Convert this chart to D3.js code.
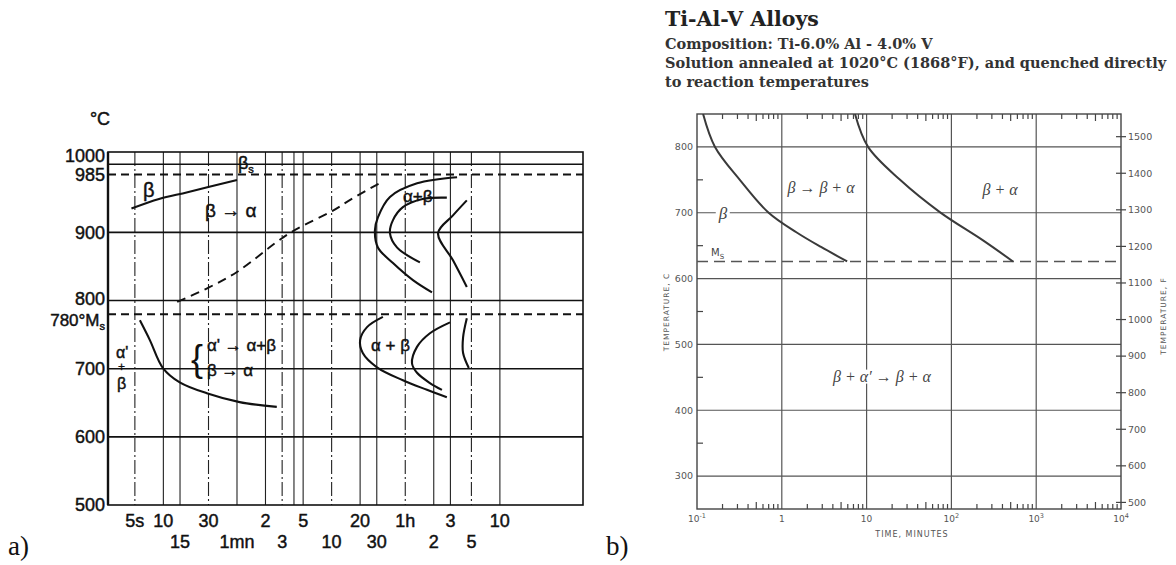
<!DOCTYPE html>
<html><head><meta charset="utf-8">
<script src="https://cdn.jsdelivr.net/npm/d3@7"></script>
<style>body{margin:0;background:#fff}</style>
</head><body><svg id="c" width="1176" height="565" xmlns="http://www.w3.org/2000/svg"></svg>
<script>
// ---------------- LEFT CHART DATA (time in seconds, temperature in °C) ----------------
const leftSolidTemps = [1000, 900, 800, 700, 600];
const leftDashedTemps = [985, 780];
const leftTempTicks = [1000, 985, 900, 800, 700, 600, 500];
const leftGridTimes = [5, 10, 15, 30, 60, 120, 180, 240, 300, 600, 1200, 1800, 3600, 7200, 10800, 18000, 36000];
const leftRow1Times = [5, 10, 30, 120, 300, 1200, 3600, 10800, 36000];
const leftRow1Labels = ["5s", "10", "30", "2", "5", "20", "1h", "3", "10"];
const leftRow2Times = [15, 60, 180, 600, 1800, 7200, 18000];
const leftRow2Labels = ["15", "1mn", "3", "10", "30", "2", "5"];
const betaLimit = [[4.6, 935], [9, 949], [18, 959], [60, 977]];
const betaAlphaStart = [[14, 798], [30, 819], [60, 842], [216, 899], [620, 932], [1000, 950], [2100, 975]];
const upperOuterC = [[12700, 981], [4800, 972], [2480, 952], [1850, 922], [1720, 903], [1850, 878], [2670, 855], [4340, 830], [6900, 812]];
const upperInnerC = [[9900, 951], [5500, 949], [3400, 937], [2670, 918], [2480, 899], [2940, 878], [5140, 856]];
const upperThird = [[16100, 947], [11500, 925], [8000, 899], [11500, 859], [16100, 820]];
const lowerLeft = [[5.65, 771], [7.2, 742], [9.9, 701], [14.9, 680], [28.8, 664], [64, 651], [158, 644]];
const lowerOuterC = [[2090, 776], [1420, 761], [1200, 742], [1280, 723], [1810, 702], [3400, 683], [6100, 669], [9900, 658]];
const lowerInnerC = [[10700, 768], [6560, 752], [4790, 732], [4240, 708], [4790, 694], [6560, 679], [8790, 669]];
const lowerThird = [[16100, 774], [14700, 746], [14700, 723], [16900, 701]];

// ---------------- RIGHT CHART DATA (time in minutes, temperature in °C / °F) ----------------
const rightGridTemps = [300, 400, 500, 600, 700, 800];
const rightMinorTemps = [350, 450, 550, 650, 750];
const rightGridTimes = [1, 10, 100, 1000];
const rightDecades = [0.1, 1, 10, 100, 1000];
const rightMinorMult = [2, 3, 4, 5, 6, 7, 8, 9];
const rightTimeLabelValues = [0.1, 1, 10, 100, 1000, 10000];
const rightTimeLabelBase = ["10", "1", "10", "10", "10", "10"];
const rightTimeLabelExp = ["-1", "", "", "2", "3", "4"];
const rightFTicks = [500, 600, 700, 800, 900, 1000, 1100, 1200, 1300, 1400, 1500];
const msTempRight = 626;
const curveLeftRight = [[0.118, 850], [0.163, 800], [0.32, 750], [0.7, 700], [1.5, 670], [2.9, 648], [5.9, 626]];
const curveRightRight = [[7.3, 850], [10.4, 800], [24.8, 750], [73, 701], [236, 658], [532, 626]];
const titleText = "Ti-Al-V Alloys";
const titleLines = ["Composition: Ti-6.0% Al - 4.0% V", "Solution annealed at 1020\u00B0C (1868\u00B0F), and quenched directly", "to reaction temperatures"];

const svg = d3.select("#c");
const SANS = "'Liberation Sans', Arial, 'DejaVu Sans', sans-serif";
const SERIF = "'Liberation Serif', 'DejaVu Serif', serif";

// ================= LEFT =================
const xL = d3.scaleLog().domain([2.6, 272000]).range([108, 583]);
const yL = d3.scaleLinear().domain([500, 1018]).range([505, 152]);
const gL = svg.append("g");
const lineL = d3.line().x(d => xL(d[0])).y(d => yL(d[1])).curve(d3.curveCatmullRom.alpha(0.5));

gL.selectAll("line.vg").data(leftGridTimes).join("line")
  .attr("x1", d => xL(d)).attr("x2", d => xL(d))
  .attr("y1", yL(1018)).attr("y2", yL(500))
  .attr("stroke", "#222").attr("stroke-width", 1.1)
  .attr("stroke-dasharray", (d, i) => (i % 3 === 0 ? "14,3,2,3" : null));
gL.selectAll("line.hs").data(leftSolidTemps).join("line")
  .attr("x1", 108).attr("x2", 583).attr("y1", d => yL(d)).attr("y2", d => yL(d))
  .attr("stroke", "#111").attr("stroke-width", 1.6);
gL.selectAll("line.hd").data(leftDashedTemps).join("line")
  .attr("x1", 108).attr("x2", 583).attr("y1", d => yL(d)).attr("y2", d => yL(d))
  .attr("stroke", "#111").attr("stroke-width", 2).attr("stroke-dasharray", "8,5");
gL.append("rect").attr("x", 108).attr("y", yL(1018)).attr("width", 583 - 108).attr("height", yL(500) - yL(1018))
  .attr("fill", "none").attr("stroke", "#111").attr("stroke-width", 1.6);
gL.append("line").attr("x1", 108).attr("x2", 108).attr("y1", yL(1018)).attr("y2", yL(500))
  .attr("stroke", "#111").attr("stroke-width", 2.4);

const solidCurves = [betaLimit, upperOuterC, upperInnerC, upperThird, lowerLeft, lowerOuterC, lowerInnerC, lowerThird];
gL.selectAll("path.cv").data(solidCurves).join("path")
  .attr("d", lineL).attr("fill", "none").attr("stroke", "#111").attr("stroke-width", 2.1);
gL.append("path").datum(betaAlphaStart).attr("d", lineL).attr("fill", "none")
  .attr("stroke", "#111").attr("stroke-width", 1.9).attr("stroke-dasharray", "9,6");

function heavy(sel) { return sel.attr("stroke", "#111").attr("stroke-width", 0.45); }

// y labels
heavy(gL.selectAll("text.yl").data(leftTempTicks).join("text")
  .attr("x", 105).attr("y", d => yL(d) + (d === 1000 ? -9 : d === 800 ? -2 : 0))
  .attr("dy", "0.35em").attr("text-anchor", "end")
  .attr("font-family", SANS).attr("font-size", 18).attr("fill", "#111").text(d => d));
const msL = heavy(gL.append("text").attr("x", 105).attr("y", yL(780) + 6).attr("dy", "0.35em").attr("text-anchor", "end")
  .attr("font-family", SANS).attr("font-size", 17).attr("fill", "#111"));
msL.append("tspan").text("780\u00B0M");
msL.append("tspan").attr("font-size", 11).attr("dy", 4).text("s");
heavy(gL.append("text").attr("x", 100).attr("y", 125).attr("text-anchor", "middle")
  .attr("font-family", SANS).attr("font-size", 18).attr("fill", "#111").text("\u00B0C"));

// x labels
heavy(gL.selectAll("text.x1").data(leftRow1Times).join("text")
  .attr("x", d => xL(d)).attr("y", 521).attr("dy", "0.35em").attr("text-anchor", "middle")
  .attr("font-family", SANS).attr("font-size", 18).attr("fill", "#111").text((d, i) => leftRow1Labels[i]));
heavy(gL.selectAll("text.x2").data(leftRow2Times).join("text")
  .attr("x", d => xL(d)).attr("y", 542).attr("dy", "0.35em").attr("text-anchor", "middle")
  .attr("font-family", SANS).attr("font-size", 18).attr("fill", "#111").text((d, i) => leftRow2Labels[i]));

// region labels
function lt(x, y, s, size) {
  return heavy(gL.append("text").attr("x", x).attr("y", y).attr("dy", "0.35em")
    .attr("font-family", SANS).attr("font-size", size || 18).attr("fill", "#111").text(s));
}
lt(143, 190, "\u03B2", 20);
lt(205, 210, "\u03B2 \u2192 \u03B1", 19);
const bs = lt(238, 163, "\u03B2", 18);
bs.append("tspan").attr("font-size", 11).attr("dy", 4).text("s");
lt(403, 196, "\u03B1+\u03B2", 17);
lt(371, 345, "\u03B1 + \u03B2", 17);
lt(191, 358, "{", 36).attr("stroke-width", 0);
lt(207, 345, "\u03B1' \u2192 \u03B1+\u03B2", 17);
lt(207, 370, "\u03B2 \u2192 \u03B1", 17);
lt(116, 352, "\u03B1'", 16);
lt(118, 367, "+", 12).attr("stroke-width", 0.3);
lt(117, 383, "\u03B2", 16);
svg.append("text").attr("x", 8).attr("y", 555).attr("font-family", SERIF).attr("font-size", 27).attr("fill", "#111").text("a)");
svg.append("text").attr("x", 606).attr("y", 555).attr("font-family", SERIF).attr("font-size", 27).attr("fill", "#111").text("b)");

// ================= RIGHT =================
const xR = d3.scaleLog().domain([0.1, 10000]).range([697, 1121]);
const yR = d3.scaleLinear().domain([250, 850]).range([509, 114]);
const gR = svg.append("g");
const GR = "#555";
svg.append("defs").append("clipPath").attr("id", "clipR").append("rect")
  .attr("x", 697).attr("y", 114).attr("width", 1121 - 697).attr("height", 509 - 114);

// title
const TSERIF = "'DejaVu Serif', serif";
gR.append("text").attr("x", 665).attr("y", 26).attr("font-family", TSERIF).attr("font-weight", "bold")
  .attr("font-size", 20.5).attr("fill", "#222").text(titleText);
gR.selectAll("text.sub").data(titleLines).join("text")
  .attr("x", 665).attr("y", (d, i) => 49 + i * 19)
  .attr("font-family", TSERIF).attr("font-weight", "bold").attr("font-size", 14.5).attr("fill", "#333")
  .text(d => d);

gR.selectAll("line.hg").data(rightGridTemps).join("line")
  .attr("x1", 697).attr("x2", 1121).attr("y1", d => yR(d)).attr("y2", d => yR(d))
  .attr("stroke", GR).attr("stroke-width", 1.1);
gR.selectAll("line.vg").data(rightGridTimes).join("line")
  .attr("x1", d => xR(d)).attr("x2", d => xR(d)).attr("y1", 114).attr("y2", 509)
  .attr("stroke", GR).attr("stroke-width", 1.2);
gR.append("rect").attr("x", 697).attr("y", 114).attr("width", 1121 - 697).attr("height", 509 - 114)
  .attr("fill", "none").attr("stroke", "#444").attr("stroke-width", 1.4);

// minor ticks top & bottom
const minor = [];
rightDecades.forEach(d => rightMinorMult.forEach(m => minor.push({ v: d * m, m })));
gR.selectAll("line.tt").data(minor).join("line")
  .attr("x1", d => xR(d.v)).attr("x2", d => xR(d.v)).attr("y1", 114).attr("y2", d => 114 + (d.m === 5 ? 7 : 5))
  .attr("stroke", "#444").attr("stroke-width", 1.2);
gR.selectAll("line.tb").data(minor).join("line")
  .attr("x1", d => xR(d.v)).attr("x2", d => xR(d.v)).attr("y1", 509).attr("y2", d => 509 - (d.m === 5 ? 7 : 5))
  .attr("stroke", "#444").attr("stroke-width", 1.2);
gR.selectAll("line.tl").data(rightMinorTemps).join("line")
  .attr("x1", 697).attr("x2", 703).attr("y1", d => yR(d)).attr("y2", d => yR(d))
  .attr("stroke", "#444").attr("stroke-width", 1.2);
const toC = f => (f - 32) * 5 / 9;
gR.selectAll("line.tr").data(rightFTicks).join("line")
  .attr("x1", 1116).attr("x2", 1126).attr("y1", d => yR(toC(d))).attr("y2", d => yR(toC(d)))
  .attr("stroke", "#444").attr("stroke-width", 1.2);

// labels
const LBL = { ff: "'DejaVu Sans', sans-serif", c: "#555" };
gR.selectAll("text.yl").data(rightGridTemps).join("text")
  .attr("x", 693).attr("y", d => yR(d)).attr("dy", "0.35em").attr("text-anchor", "end")
  .attr("font-family", LBL.ff).attr("font-size", 9.5).attr("fill", LBL.c).text(d => d);
gR.selectAll("text.fl").data(rightFTicks).join("text")
  .attr("x", 1128).attr("y", d => yR(toC(d))).attr("dy", "0.35em")
  .attr("font-family", LBL.ff).attr("font-size", 9.5).attr("fill", LBL.c).text(d => d);
const xl = gR.selectAll("text.xl").data(rightTimeLabelValues).join("text")
  .attr("x", d => xR(d)).attr("y", 519).attr("dy", "0.35em").attr("text-anchor", "middle")
  .attr("font-family", LBL.ff).attr("font-size", 9).attr("fill", LBL.c);
xl.append("tspan").text((d, i) => rightTimeLabelBase[i]);
xl.append("tspan").attr("font-size", 6.5).attr("dy", -4).text((d, i) => rightTimeLabelExp[i]);
gR.append("text").attr("x", 912).attr("y", 537).attr("text-anchor", "middle")
  .attr("font-family", LBL.ff).attr("font-size", 8).attr("letter-spacing", 1).attr("fill", LBL.c).text("TIME, MINUTES");
gR.append("text").attr("transform", "translate(669,312) rotate(-90)").attr("text-anchor", "middle")
  .attr("font-family", LBL.ff).attr("font-size", 7.5).attr("letter-spacing", 1).attr("fill", LBL.c).text("TEMPERATURE, C");
gR.append("text").attr("transform", "translate(1166,316) rotate(-90)").attr("text-anchor", "middle")
  .attr("font-family", LBL.ff).attr("font-size", 7.5).attr("letter-spacing", 1).attr("fill", LBL.c).text("TEMPERATURE, F");

// Ms dashed line and curves
gR.append("line").attr("x1", 697).attr("x2", 1121).attr("y1", yR(msTempRight)).attr("y2", yR(msTempRight))
  .attr("stroke", GR).attr("stroke-width", 1.4).attr("stroke-dasharray", "11,6");
const lineR = d3.line().x(p => xR(p[0])).y(p => yR(p[1])).curve(d3.curveCatmullRom.alpha(0.5));
gR.append("g").attr("clip-path", "url(#clipR)").selectAll("path").data([curveLeftRight, curveRightRight]).join("path")
  .attr("d", lineR).attr("fill", "none").attr("stroke", "#3a3a3a").attr("stroke-width", 2);

// region labels with white background
function rl(x, y, s, size, anchor) {
  const t = gR.append("text").attr("x", x).attr("y", y).attr("dy", "0.35em").attr("text-anchor", anchor || "middle")
    .attr("font-family", SERIF).attr("font-style", "italic").attr("font-size", size).attr("fill", "#444").text(s);
  const b = t.node().getBBox();
  gR.insert("rect", () => t.node()).attr("x", b.x - 2).attr("y", b.y + 2).attr("width", b.width + 4).attr("height", b.height - 4).attr("fill", "#fff");
  return t;
}
rl(821, yR(738), "\u03B2 \u2192 \u03B2 + \u03B1", 16);
rl(1000, yR(735), "\u03B2 + \u03B1", 16);
rl(882, yR(452), "\u03B2 + \u03B1\u2032 \u2192 \u03B2 + \u03B1", 16);
rl(723, yR(700), "\u03B2", 17);
const ms = gR.append("text").attr("x", 711).attr("y", yR(640)).attr("dy", "0.35em")
  .attr("font-family", LBL.ff).attr("font-size", 10).attr("fill", "#444");
ms.append("tspan").text("M");
ms.append("tspan").attr("font-size", 7).attr("dy", 3).text("S");
</script></body></html>
